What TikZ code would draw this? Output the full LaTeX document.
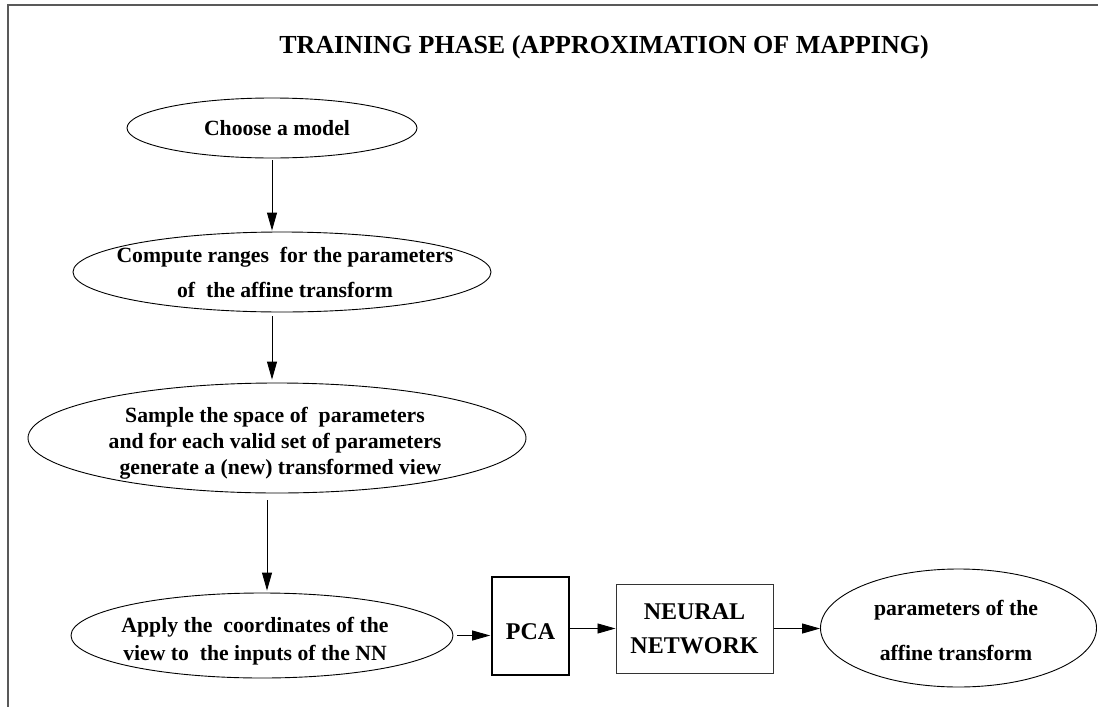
\documentclass[tikz,border=0pt]{standalone}
\usepackage{fontspec}
\setmainfont{Liberation Serif}
\usetikzlibrary{shapes.geometric,arrows.meta}
\definecolor{framegray}{rgb}{0.35,0.35,0.35}
\tikzset{
	oval/.style={draw, ellipse, line width=0.9pt, inner sep=0pt},
	lbl/.style={font=\fontsize{21.7}{26}\selectfont\bfseries, align=center, inner sep=0pt},
	blockbox/.style={draw, inner sep=0pt, font=\fontsize{24}{34.4}\selectfont\bfseries, align=center},
	flow/.style={-{Triangle[length=18pt,width=10pt]}, line width=0.9pt},
}
\begin{document}
\begin{tikzpicture}[x=1pt,y=-1pt]
			\useasboundingbox (0,0) rectangle (1098,707);
			\coordinate (F1) at (1098,5);
			\coordinate (F2) at (8,5);
			\coordinate (F3) at (8,707);
			%Frame
			\draw[framegray, line width=1.5pt] (F1) -- (F2) -- (F3);
			%Title
			\node[font=\fontsize{26}{30}\selectfont\bfseries, anchor=base, inner sep=0pt] (title) at (604,53) {TRAINING PHASE (APPROXIMATION OF MAPPING)};
			%Steps
			\node[oval, minimum width=290pt, minimum height=60pt] (model) at (272,128) {};
			\node[lbl] (model-t) at (277,127.6) {Choose a model};
			\node[oval, minimum width=418pt, minimum height=80pt] (ranges) at (282,272) {};
			\node[lbl] (ranges-t) at (285,272) {Compute ranges\ \ for the parameters\\[9pt] of\ \ the affine transform};
			\node[oval, minimum width=498pt, minimum height=110pt] (sample) at (277,438) {};
			\node[lbl] (sample-t) at (275,443.6) {Sample the space of\ \ parameters\\ and for each valid set of parameters\\ \ \ generate a (new) transformed view};
			\node[oval, minimum width=382pt, minimum height=85pt] (apply) at (262,635.5) {};
			\node[lbl] (apply-t) at (255,641) {Apply the\ \ coordinates of the\\[2pt] view to\ \ the inputs of the NN};
			%Blocks
			\node[blockbox, line width=1.6pt, minimum width=77pt, minimum height=98pt, text height=27pt] (pca) at (530.5,626) {PCA};
			\node[blockbox, draw=black!80, line width=1pt, minimum width=157pt, minimum height=89pt] (nn) at (694.5,628.5) {NEURAL\\NETWORK};
			\node[oval, minimum width=276pt, minimum height=118pt] (params) at (958.5,628) {};
			\node[lbl] (params-t) at (956,630) {parameters of the\\[19pt] affine transform};
			%Arrows
			\draw[flow, shorten <=2pt, shorten >=1pt] (model.south) -- (model.south |- ranges.north);
			\draw[flow, shorten <=4pt, shorten >=3pt] ([xshift=-10pt]ranges.south) -- ([xshift=-10pt]ranges.south |- sample.north);
			\draw[flow, shorten <=7pt, shorten >=2pt] ([xshift=5pt]apply.north |- sample.south) -- ([xshift=5pt]apply.north);
			\draw[flow, shorten <=4pt, shorten >=1pt] (apply.east) -- (apply.east -| pca.west);
			\draw[flow] (pca.east |- nn.west) -- (nn.west);
			\draw[flow] (nn.east) -- (nn.east -| params.west);
\end{tikzpicture}
\end{document}
